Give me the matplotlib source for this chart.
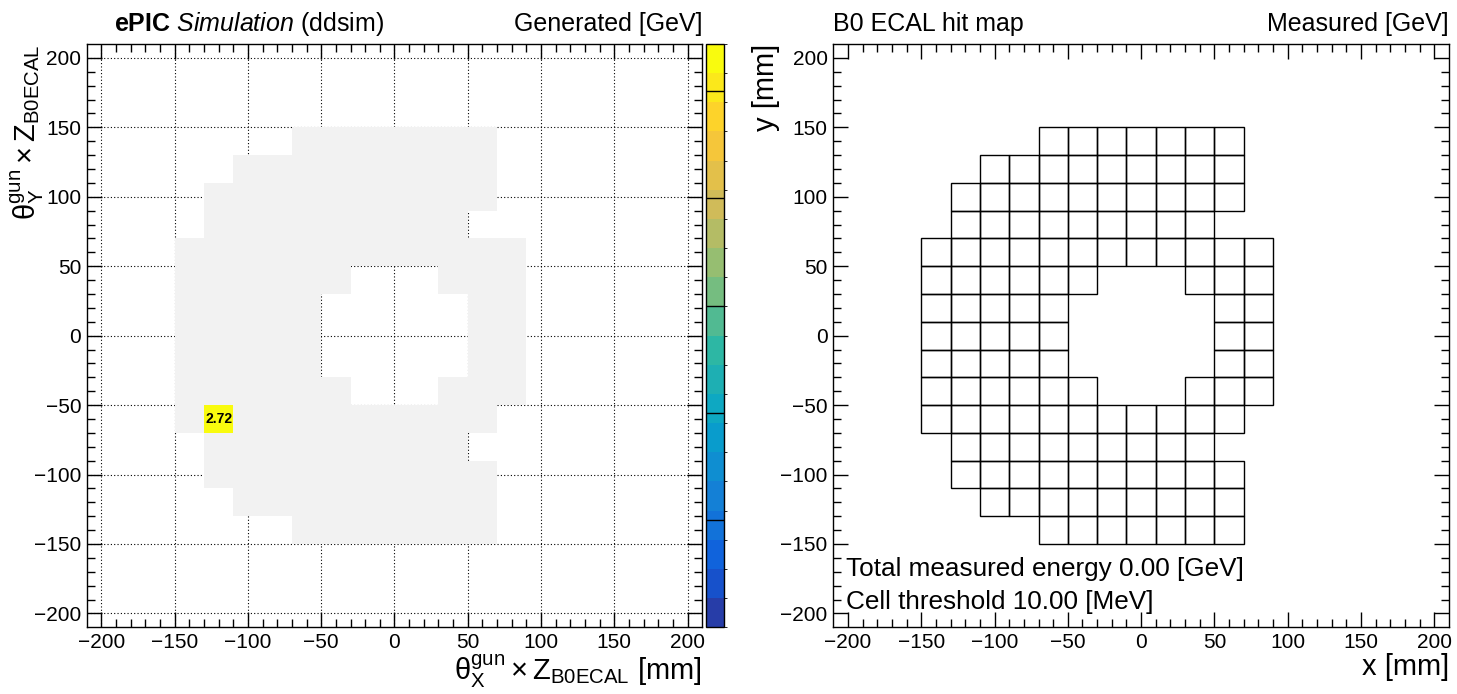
import numpy as np
import matplotlib
matplotlib.use("Agg")
import matplotlib.pyplot as plt
from matplotlib.patches import Rectangle
from matplotlib.colors import LinearSegmentedColormap, ListedColormap, BoundaryNorm
from matplotlib.colorbar import ColorbarBase

plt.rcParams['font.family'] = ['Liberation Sans', 'DejaVu Sans']
plt.rcParams['mathtext.fontset'] = 'custom'
plt.rcParams['mathtext.rm'] = 'Liberation Sans'
plt.rcParams['mathtext.it'] = 'Liberation Sans:italic'
plt.rcParams['mathtext.bf'] = 'Liberation Sans:bold'

# B0 ECAL cell layout: 20 mm cells, one entry per row (lower y edge)
CELL = 20
row_y = [130, 110, 90, 70, 50, 30, 10, -10, -30, -50, -70, -90, -110, -130, -150]
row_segments = [
    [(-70, 70)],
    [(-110, 70)],
    [(-130, 70)],
    [(-130, 50)],
    [(-150, 90)],
    [(-150, -30), (30, 90)],
    [(-150, -50), (50, 90)],
    [(-150, -50), (50, 90)],
    [(-150, -50), (50, 90)],
    [(-150, -30), (30, 90)],
    [(-150, 70)],
    [(-130, 50)],
    [(-130, 70)],
    [(-110, 70)],
    [(-70, 70)],
]

# generated particle hit
hit_x = [-120]
hit_y = [-60]
hit_e = [2.72]

total_measured = 0.00
cell_threshold = 10.00

AX_RANGE = (-210, 210)
TICKS = np.arange(-200, 201, 50)

# ROOT kBird palette with 20 contour bands
bird_stops = [0.0, 0.125, 0.25, 0.375, 0.5, 0.625, 0.75, 0.875, 1.0]
bird_r = [0.2082, 0.0592, 0.0780, 0.0232, 0.1802, 0.5301, 0.8186, 0.9956, 0.9764]
bird_g = [0.1664, 0.3599, 0.5041, 0.6419, 0.7178, 0.7492, 0.7328, 0.7862, 0.9832]
bird_b = [0.5293, 0.8684, 0.8385, 0.7914, 0.6425, 0.4662, 0.3499, 0.1968, 0.0539]
bird = LinearSegmentedColormap.from_list(
    "bird", list(zip(bird_stops, zip(bird_r, bird_g, bird_b))))
n_bands = 20
band_cmap = ListedColormap([bird(min((i + 0.99) / n_bands, 1.0)) for i in range(n_bands)])
zmax = max(hit_e)
levels = np.linspace(0, zmax, n_bands + 1)
norm = BoundaryNorm(levels, n_bands)


def cells():
    for y0, segs in zip(row_y, row_segments):
        for x0, x1 in segs:
            for x in range(x0, x1, CELL):
                yield x, y0


def style_axes(ax):
    ax.set_xlim(*AX_RANGE)
    ax.set_ylim(*AX_RANGE)
    ax.set_xticks(TICKS)
    ax.set_yticks(TICKS)
    ax.set_xticks(np.arange(-200, 201, 10), minor=True)
    ax.set_yticks(np.arange(-200, 201, 10), minor=True)
    ax.tick_params(which='both', direction='in', top=True, right=True,
                   width=1.0, labelsize=15, pad=4)
    ax.tick_params(which='major', length=11)
    ax.tick_params(which='minor', length=5.5)
    for sp in ax.spines.values():
        sp.set_linewidth(1.0)


fig = plt.figure(figsize=(14.57, 6.94), dpi=100)
ax1 = fig.add_axes([0.0595, 0.0961, 0.4225, 0.8405])
cax = fig.add_axes([0.4844, 0.0961, 0.0126, 0.8405])
ax2 = fig.add_axes([0.5719, 0.0961, 0.4226, 0.8405])

# ---- left: generated
style_axes(ax1)
ax1.set_axisbelow(True)
ax1.grid(True, which='major', linestyle=(0, (1, 2)), color='black', linewidth=0.8)
for x, y in cells():
    ax1.add_patch(Rectangle((x, y), CELL, CELL, facecolor='#f2f2f2', edgecolor='none'))
for x, y, e in zip(hit_x, hit_y, hit_e):
    ax1.add_patch(Rectangle((x - CELL / 2, y - CELL / 2), CELL, CELL,
                            facecolor=band_cmap(norm(e)), edgecolor='none'))
    ax1.text(x, y, f"{e:.2f}", ha='center', va='center', fontsize=10,
             fontweight='bold', color='black')

ax1.set_xlabel(r'$\mathrm{θ}_{\mathrm{X}}^{\mathrm{gun}} \times \mathrm{Z}_{\mathrm{B0ECAL}}$ [mm]',
               fontsize=21, loc='right', labelpad=1)
ax1.set_ylabel(r'$\mathrm{θ}_{\mathrm{Y}}^{\mathrm{gun}} \times \mathrm{Z}_{\mathrm{B0ECAL}}$',
               fontsize=21, loc='top')
ax1.yaxis.set_label_coords(-0.066, 1.0)
ax1.set_title(r'$\mathbf{ePIC}$ $\mathit{Simulation}$ (ddsim)', loc='left',
              fontsize=18, x=0.045, pad=9)
ax1.set_title('Generated [GeV]', loc='right', fontsize=18, pad=9)

cb = ColorbarBase(cax, cmap=band_cmap, norm=norm, boundaries=levels,
                  orientation='vertical')
cb.outline.set_linewidth(1.0)
cax.set_yticks([])
cax.hlines(np.arange(0.5, zmax, 0.5), 0, 1, colors='black', linewidth=1.0,
           transform=cax.get_yaxis_transform())

# ---- right: measured
style_axes(ax2)
for x, y in cells():
    ax2.add_patch(Rectangle((x, y), CELL, CELL, facecolor='none',
                            edgecolor='black', linewidth=1.0))
ax2.text(-201, -168, f"Total measured energy {total_measured:.2f} [GeV]",
         fontsize=18.8, ha='left', va='center')
ax2.text(-201, -192, f"Cell threshold {cell_threshold:.2f} [MeV]",
         fontsize=18.8, ha='left', va='center')
ax2.set_xlabel('x [mm]', fontsize=21, loc='right', labelpad=1)
ax2.set_ylabel('y [mm]', fontsize=21, loc='top', labelpad=0)
ax2.set_title('B0 ECAL hit map', loc='left', fontsize=18, pad=9)
ax2.set_title('Measured [GeV]', loc='right', fontsize=18, pad=9)

fig.savefig('out.png', dpi=100)
